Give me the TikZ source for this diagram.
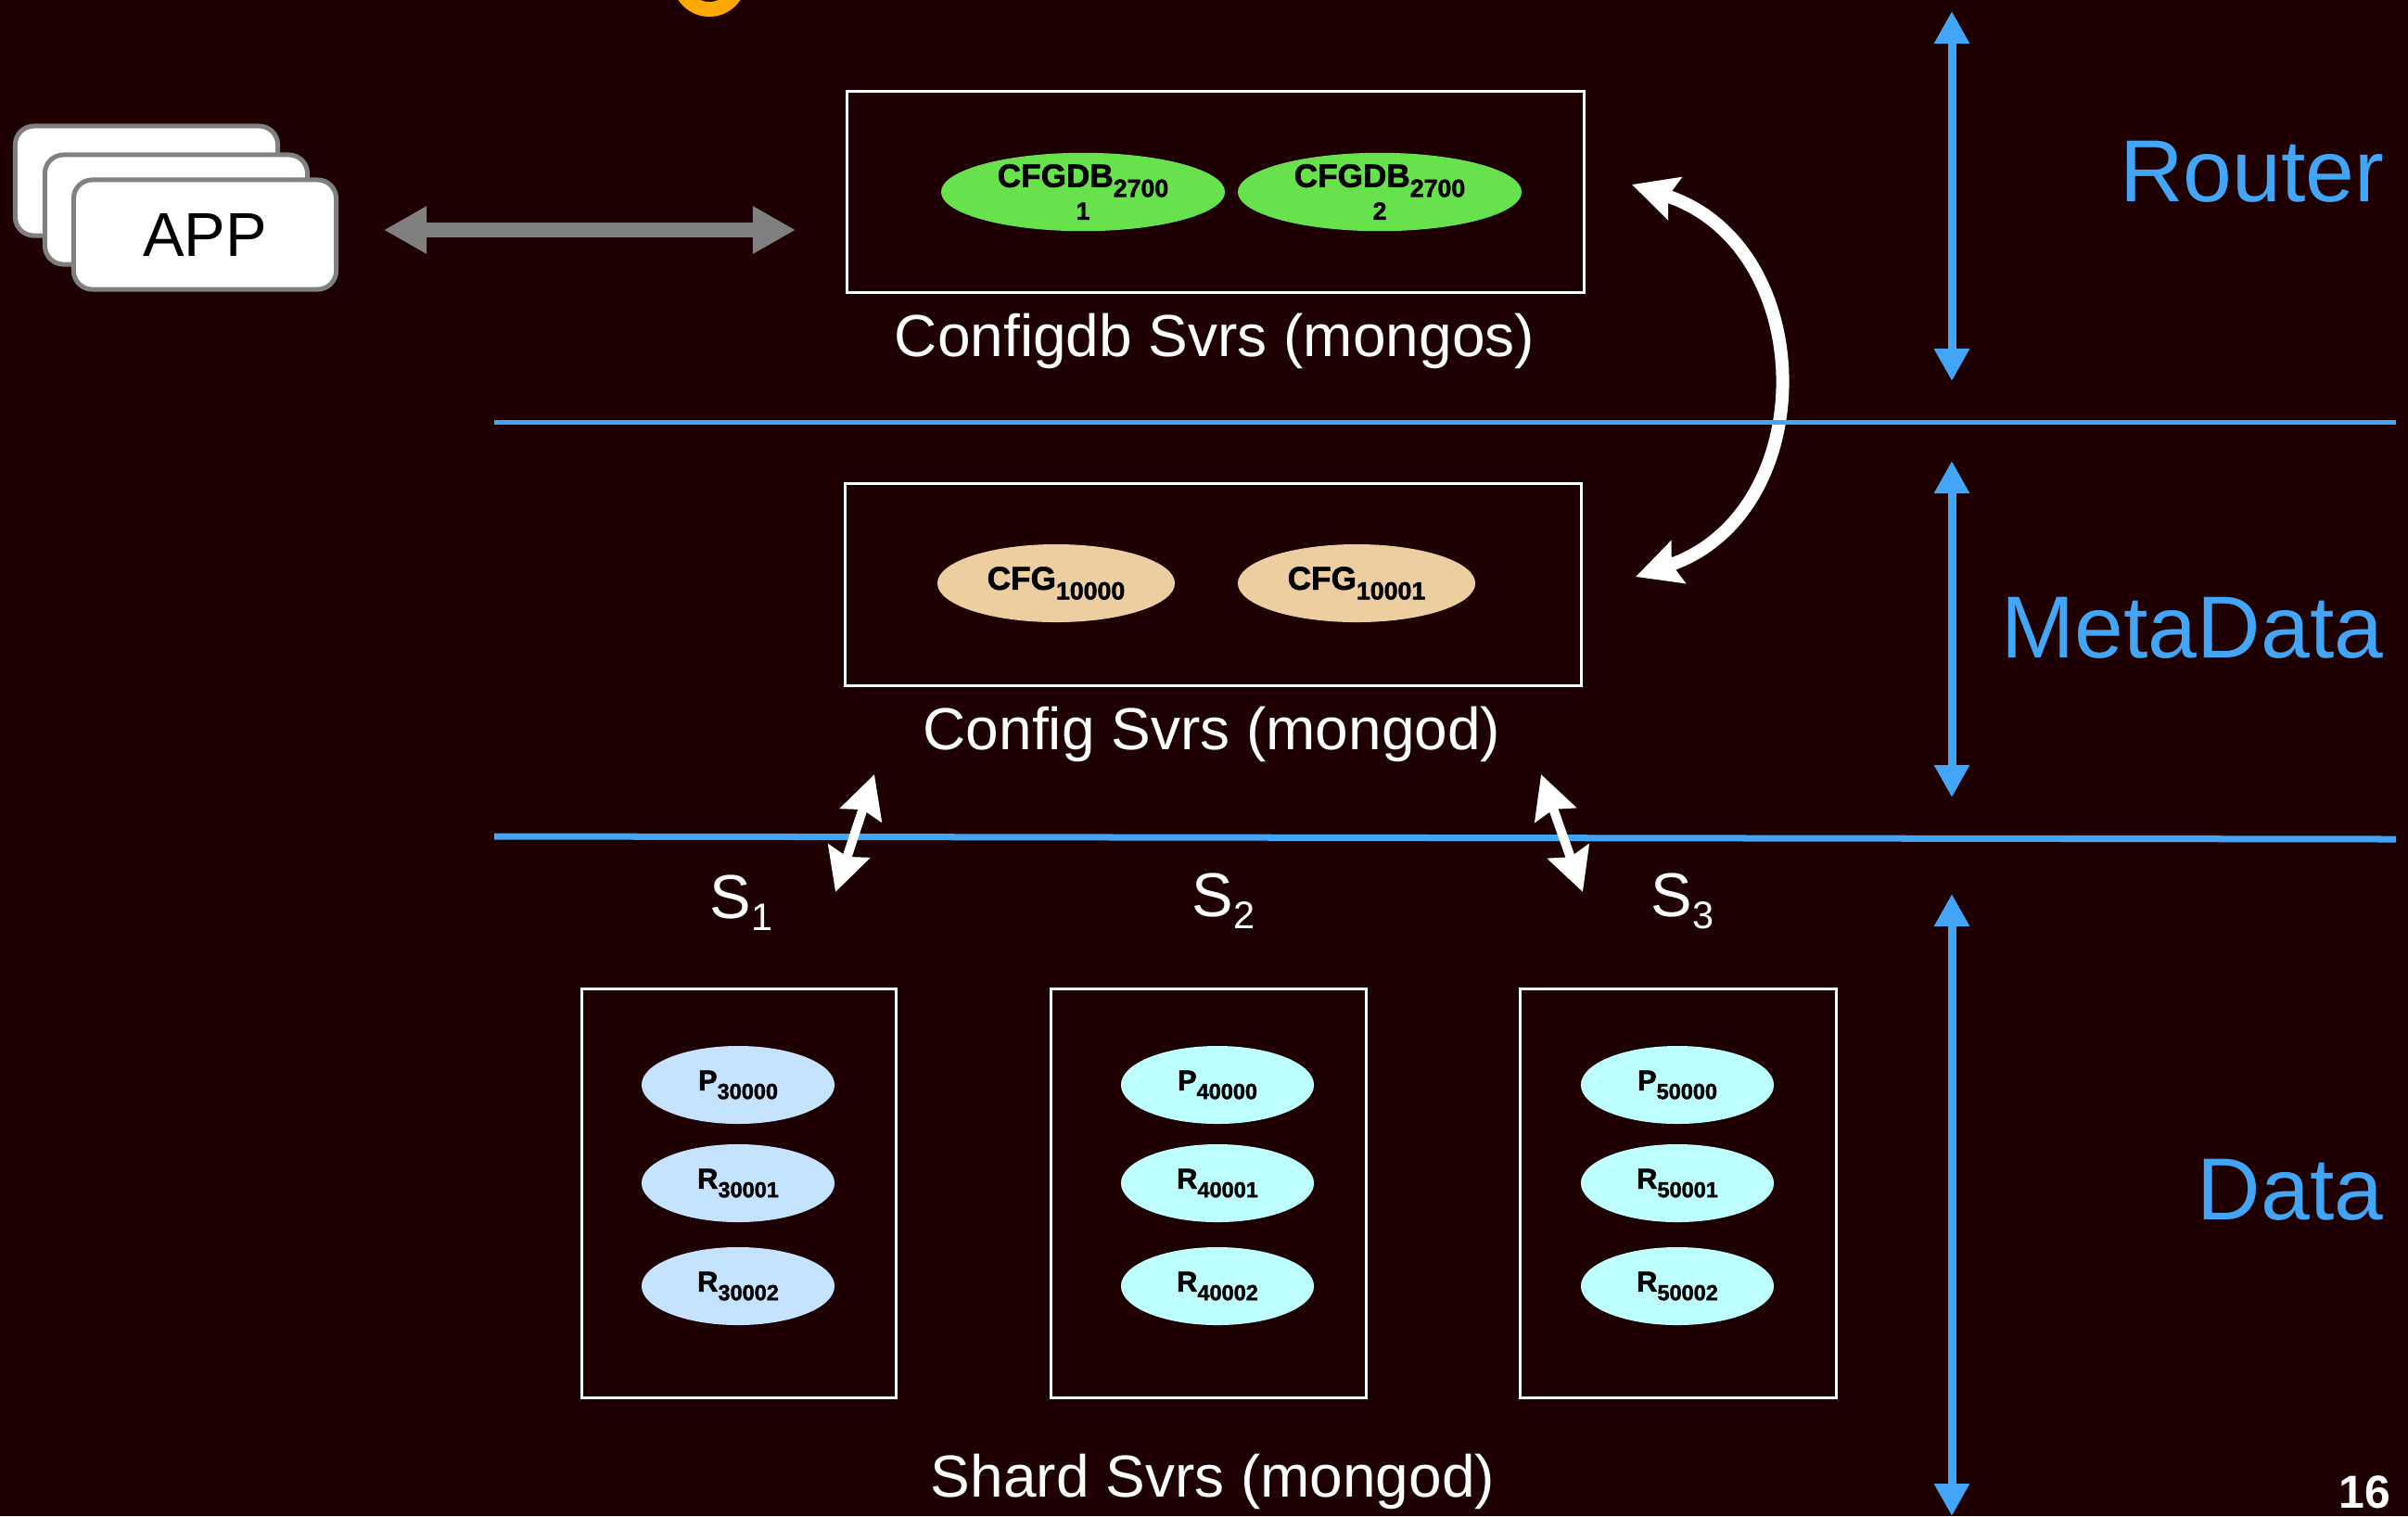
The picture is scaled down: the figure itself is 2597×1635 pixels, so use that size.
\documentclass[tikz,border=0pt]{standalone}
\usepackage{fontspec}
\usepackage{graphicx}
\setmainfont{Liberation Sans}
\newfontfamily\heavyfont[FakeBold=1.6]{Liberation Sans Bold}
\usetikzlibrary{arrows.meta,shapes.geometric}
\definecolor{bgc}{HTML}{1E0003}
\definecolor{lblue}{HTML}{42A5F5}
\definecolor{cgreen}{HTML}{68E24C}
\definecolor{ctan}{HTML}{EDCEA0}
\definecolor{sblue}{HTML}{C5E2FF}
\definecolor{scyan}{HTML}{BDFEFF}
\definecolor{agray}{HTML}{808080}
\definecolor{orng}{HTML}{FFA800}
\newcommand\lsub[1]{\raisebox{-0.3em}{\scalebox{0.76}{#1}}}
\newcommand\ssub[1]{\raisebox{-0.2em}{\scalebox{0.62}{#1}}}
\begin{document}
\begin{tikzpicture}[x=0.01cm,y=-0.01cm,
  box/.style={draw=white,line width=0.03cm,rectangle,inner sep=0},
  card/.style={draw=agray,fill=white,line width=0.05cm,rounded corners=0.2cm,minimum width=2.83cm,minimum height=1.18cm,inner sep=0},
  ell/.style={ellipse,inner sep=0,minimum height=0.84cm,text=black,font=\fontsize{10}{10}\selectfont\heavyfont},
  sell/.style={ell,minimum width=2.08cm,font=\fontsize{8.8}{9}\selectfont\heavyfont},
  lbl/.style={text=white,font=\fontsize{18.2}{20}\selectfont,anchor=base,inner sep=0},
  layer/.style={text=lblue,font=\fontsize{27}{30}\selectfont,anchor=base east,inner sep=0},
  slbl/.style={text=white,font=\fontsize{19}{20}\selectfont,anchor=base west,inner sep=0},
  vblue/.style={draw=lblue,line width=0.09cm,{Triangle[length=0.35cm,width=0.36cm]}-{Triangle[length=0.35cm,width=0.36cm]}},
  warrow/.style={draw=white,line width=0.1cm,{Stealth[length=0.46cm,width=0.46cm,inset=0.06cm]}-{Stealth[length=0.46cm,width=0.46cm,inset=0.06cm]}},
  bigarrow/.style={draw=white,line width=0.14cm,{Stealth[length=0.48cm,width=0.47cm,inset=0.07cm]}-{Stealth[length=0.48cm,width=0.47cm,inset=0.07cm]}},
  grayarrow/.style={draw=agray,line width=0.16cm,{Triangle[length=0.46cm,width=0.48cm]}-{Triangle[length=0.46cm,width=0.48cm]}},
  hline/.style={draw=lblue}
]
\clip (0,0) rectangle (2597,1635);
\fill[bgc] (0,0) rectangle (2597,1635);

% partial orange title glyph
\fill[orng,even odd rule] (765,-22) circle[radius=40] (765,-22) circle[radius=24];

% APP stack
\node[card] (app1) at (158,195) {};
\node[card] (app2) at (190,226) {};
\node[card,font=\fontsize{19}{20}\selectfont] (app3) at (221,253) {APP};

% gray double arrow
\coordinate (gL) at (414,248);
\coordinate (gR) at (858,248);
\draw[grayarrow] (gL) -- (gR);

% Router box
\node[box,minimum width=7.94cm,minimum height=2.16cm] (rbox) at (1311,207) {};
\node[ell,fill=cgreen,minimum width=3.06cm,align=center] (cfgdb1) at (1168,207) {CFGDB\lsub{2700}\\[0pt]\scalebox{0.76}{1}};
\node[ell,fill=cgreen,minimum width=3.06cm,align=center] (cfgdb2) at (1488,207) {CFGDB\lsub{2700}\\[0pt]\scalebox{0.76}{2}};
\node[lbl] (rlbl) at (1310,384) {Configdb Svrs (mongos)};

% MetaData box
\node[box,minimum width=7.93cm,minimum height=2.17cm] (mbox) at (1308.5,630.5) {};
\node[ell,fill=ctan,minimum width=2.56cm] (cfg1) at (1139,629) {CFG\lsub{10000}};
\node[ell,fill=ctan,minimum width=2.56cm] (cfg2) at (1463,629) {CFG\lsub{10001}};
\node[lbl] (mlbl) at (1307,808) {Config Svrs (mongod)};

% curved white arrow between router and metadata
\coordinate (cTop) at (1760,199);
\coordinate (cBot) at (1764,622);
\draw[bigarrow] (cTop) .. controls (1963,265) and (1965,553) .. (cBot);

% blue separator lines
\draw[hline,line width=0.05cm] (533,455) -- (2584,455);
\draw[hline,line width=0.07cm] (533,902) -- (2584,905);

% blue layer arrows
\coordinate (r1) at (2105,12);
\coordinate (r2) at (2105,411);
\coordinate (m1) at (2105,497);
\coordinate (m2) at (2105,860);
\coordinate (d1) at (2105,964);
\coordinate (d2) at (2105,1635);
\draw[vblue] (r1) -- (r2);
\draw[vblue] (m1) -- (m2);
\draw[vblue] (d1) -- (d2);

\node[layer] (router) at (2572,217) {Router};
\node[layer] (meta) at (2571,709) {MetaData};
\node[layer] (data) at (2571,1315) {Data};

% small white arrows
\coordinate (a1t) at (943,835);
\coordinate (a1b) at (901,962);
\coordinate (a2t) at (1662,835);
\coordinate (a2b) at (1707,962);
\draw[warrow] (a1t) -- (a1b);
\draw[warrow] (a2t) -- (a2b);

% shard labels
\node[slbl] (s1) at (765,990) {S\ssub{1}};
\node[slbl] (s2) at (1285,988) {S\ssub{2}};
\node[slbl] (s3) at (1780,988) {S\ssub{3}};

% shard boxes
\node[box,minimum width=3.38cm,minimum height=4.40cm] (sh1) at (797,1287) {};
\node[box,minimum width=3.39cm,minimum height=4.40cm] (sh2) at (1303.5,1287) {};
\node[box,minimum width=3.40cm,minimum height=4.40cm] (sh3) at (1810,1287) {};

\node[sell,fill=sblue] (p3) at (796,1170) {P\lsub{30000}};
\node[sell,fill=sblue] (r31) at (796,1276) {R\lsub{30001}};
\node[sell,fill=sblue] (r32) at (796,1387) {R\lsub{30002}};
\node[sell,fill=scyan] (p4) at (1313,1170) {P\lsub{40000}};
\node[sell,fill=scyan] (r41) at (1313,1276) {R\lsub{40001}};
\node[sell,fill=scyan] (r42) at (1313,1387) {R\lsub{40002}};
\node[sell,fill=scyan] (p5) at (1809,1170) {P\lsub{50000}};
\node[sell,fill=scyan] (r51) at (1809,1276) {R\lsub{50001}};
\node[sell,fill=scyan] (r52) at (1809,1387) {R\lsub{50002}};

\node[lbl] (slbl) at (1308,1614) {Shard Svrs (mongod)};

% page number
\node[text=white,font=\fontsize{14.2}{15}\selectfont\bfseries,anchor=base east,inner sep=0] (pg) at (2579,1626) {16};
\end{tikzpicture}
\end{document}
